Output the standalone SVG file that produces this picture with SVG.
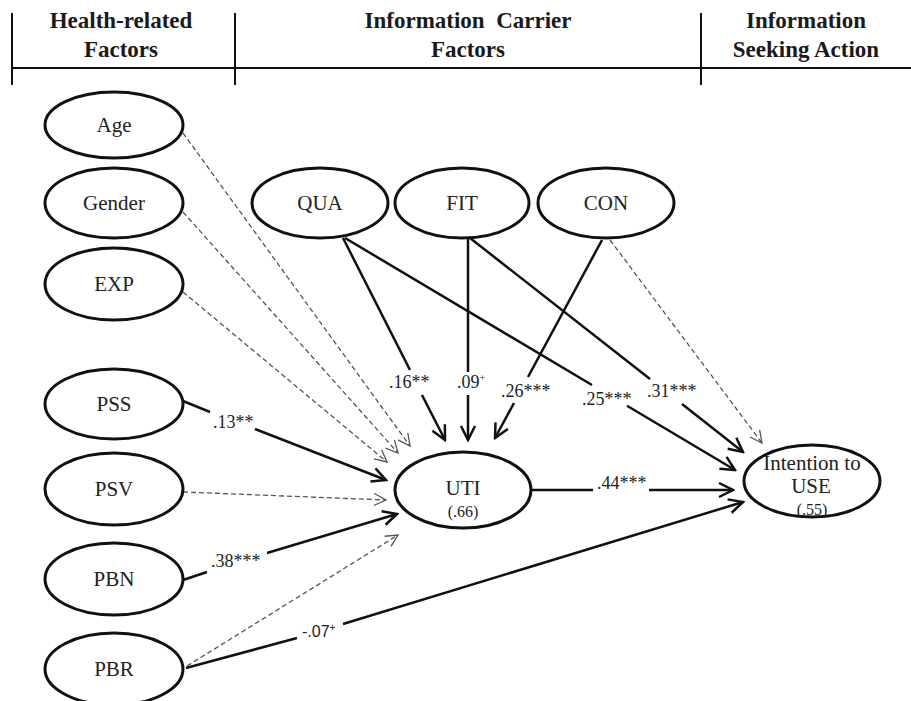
<svg xmlns="http://www.w3.org/2000/svg" width="911" height="701" viewBox="0 0 911 701">
<style>
.hdr{font-family:"Liberation Serif",serif;font-weight:bold;font-size:23px;fill:#1a1a1a;text-anchor:middle}
.node ellipse{fill:#fff;stroke:#111;stroke-width:3}
.node text{font-family:"Liberation Serif",serif;font-size:21px;fill:#222;text-anchor:middle}
.node text.r2{font-size:16px}
.lbl{font-family:"Liberation Serif",serif;font-size:18px;fill:#222}
.lbls{font-family:"Liberation Sans",sans-serif;font-size:16px;fill:#222}
.sup{font-size:10px}
.solid{fill:none;stroke:#111;stroke-width:2.5;marker-end:url(#arr)}
.dash{fill:none;stroke:#555;stroke-width:1.3;stroke-dasharray:5 3;marker-end:url(#arrd)}
.rule{stroke:#111;stroke-width:2;fill:none}
</style>
<defs>
<marker id="arr" markerUnits="userSpaceOnUse" viewBox="0 0 18 18" markerWidth="18" markerHeight="18" refX="16" refY="9" orient="auto">
<path d="M2,2 L16,9 L2,16" fill="none" stroke="#111" stroke-width="2.5"/>
</marker>
<marker id="arrd" markerUnits="userSpaceOnUse" viewBox="0 0 16 16" markerWidth="16" markerHeight="16" refX="14" refY="8" orient="auto">
<path d="M2,2 L14,8 L2,14" fill="none" stroke="#555" stroke-width="1.3"/>
</marker>
</defs>
<rect width="911" height="701" fill="#fff"/>
<g id="header">
<path class="rule" d="M12,13 V85 M235,13 V85 M701,13 V85 M12,68 H911"/>
<text class="hdr" x="121" y="28">Health-related</text>
<text class="hdr" x="121" y="57">Factors</text>
<text class="hdr" x="468" y="28">Information&#160; Carrier</text>
<text class="hdr" x="468" y="57">Factors</text>
<text class="hdr" x="806" y="28">Information</text>
<text class="hdr" x="806" y="57">Seeking Action</text>
</g>
<g id="connectors">
<path class="dash" d="M183,133 L410,446"/>
<path class="dash" d="M183,212 L398,453"/>
<path class="dash" d="M183,292 L387,462"/>
<path class="solid" d="M183,401 L210,412 M255,429 L386,480"/>
<path class="dash" d="M183,492 L386,500"/>
<path class="solid" d="M183,580 L207,572 M267,553 L397,514"/>
<path class="dash" d="M187,666 L398,535"/>
<path class="solid" d="M186,668 L297,638 M343,624 L743,502"/>
<path class="solid" d="M343,238 L410,370 M422,395 L445,440"/>
<path class="solid" d="M468,238 L468,372 M468,395 L468,440"/>
<path class="solid" d="M602,240 L528,377 M514,403 L495,438"/>
<path class="solid" d="M345,238 L592,385 M627,405.8 L735,470"/>
<path class="solid" d="M470,238 L650,379 M682,404 L743,452"/>
<path class="dash" d="M610,240 L762,443"/>
<path class="solid" d="M532,490 L593,490 M649,490 L733,490"/>
<text class="lbl" x="213" y="428">.13**</text>
<text class="lbl" x="211" y="567">.38***</text>
<text class="lbls" x="302" y="637">-.07<tspan class="sup" dy="-6">+</tspan></text>
<text class="lbl" x="389" y="388">.16**</text>
<text class="lbl" x="457" y="388">.09<tspan class="sup" dy="-7">+</tspan></text>
<text class="lbl" x="501" y="397">.26***</text>
<text class="lbl" x="582" y="405">.25***</text>
<text class="lbl" x="647" y="397">.31***</text>
<text class="lbl" x="597" y="489">.44***</text>
</g>
<g id="node-age" class="node"><ellipse cx="114" cy="125" rx="69" ry="33"/><text x="114" y="132">Age</text></g>
<g id="node-gender" class="node"><ellipse cx="114" cy="203" rx="69" ry="35"/><text x="114" y="210">Gender</text></g>
<g id="node-exp" class="node"><ellipse cx="114" cy="284" rx="69" ry="36"/><text x="114" y="291">EXP</text></g>
<g id="node-pss" class="node"><ellipse cx="114" cy="404" rx="69" ry="35"/><text x="114" y="411">PSS</text></g>
<g id="node-psv" class="node"><ellipse cx="114" cy="489" rx="69" ry="36"/><text x="114" y="496">PSV</text></g>
<g id="node-pbn" class="node"><ellipse cx="114" cy="579" rx="69" ry="36"/><text x="114" y="586">PBN</text></g>
<g id="node-pbr" class="node"><ellipse cx="114" cy="669" rx="69" ry="36"/><text x="114" y="676">PBR</text></g>
<g id="node-qua" class="node"><ellipse cx="320" cy="203" rx="68" ry="35"/><text x="320" y="210">QUA</text></g>
<g id="node-fit" class="node"><ellipse cx="462" cy="203" rx="67" ry="35"/><text x="462" y="210">FIT</text></g>
<g id="node-con" class="node"><ellipse cx="606" cy="203" rx="68" ry="35"/><text x="606" y="210">CON</text></g>
<g id="node-uti" class="node"><ellipse cx="463" cy="490" rx="68" ry="38"/><text x="463" y="495">UTI</text><text class="r2" x="463" y="517">(.66)</text></g>
<g id="node-use" class="node"><ellipse cx="812" cy="481" rx="68" ry="36"/><text x="812" y="470">Intention to</text><text x="811" y="493">USE</text><text class="r2" x="812" y="515">(.55)</text></g>
</svg>
